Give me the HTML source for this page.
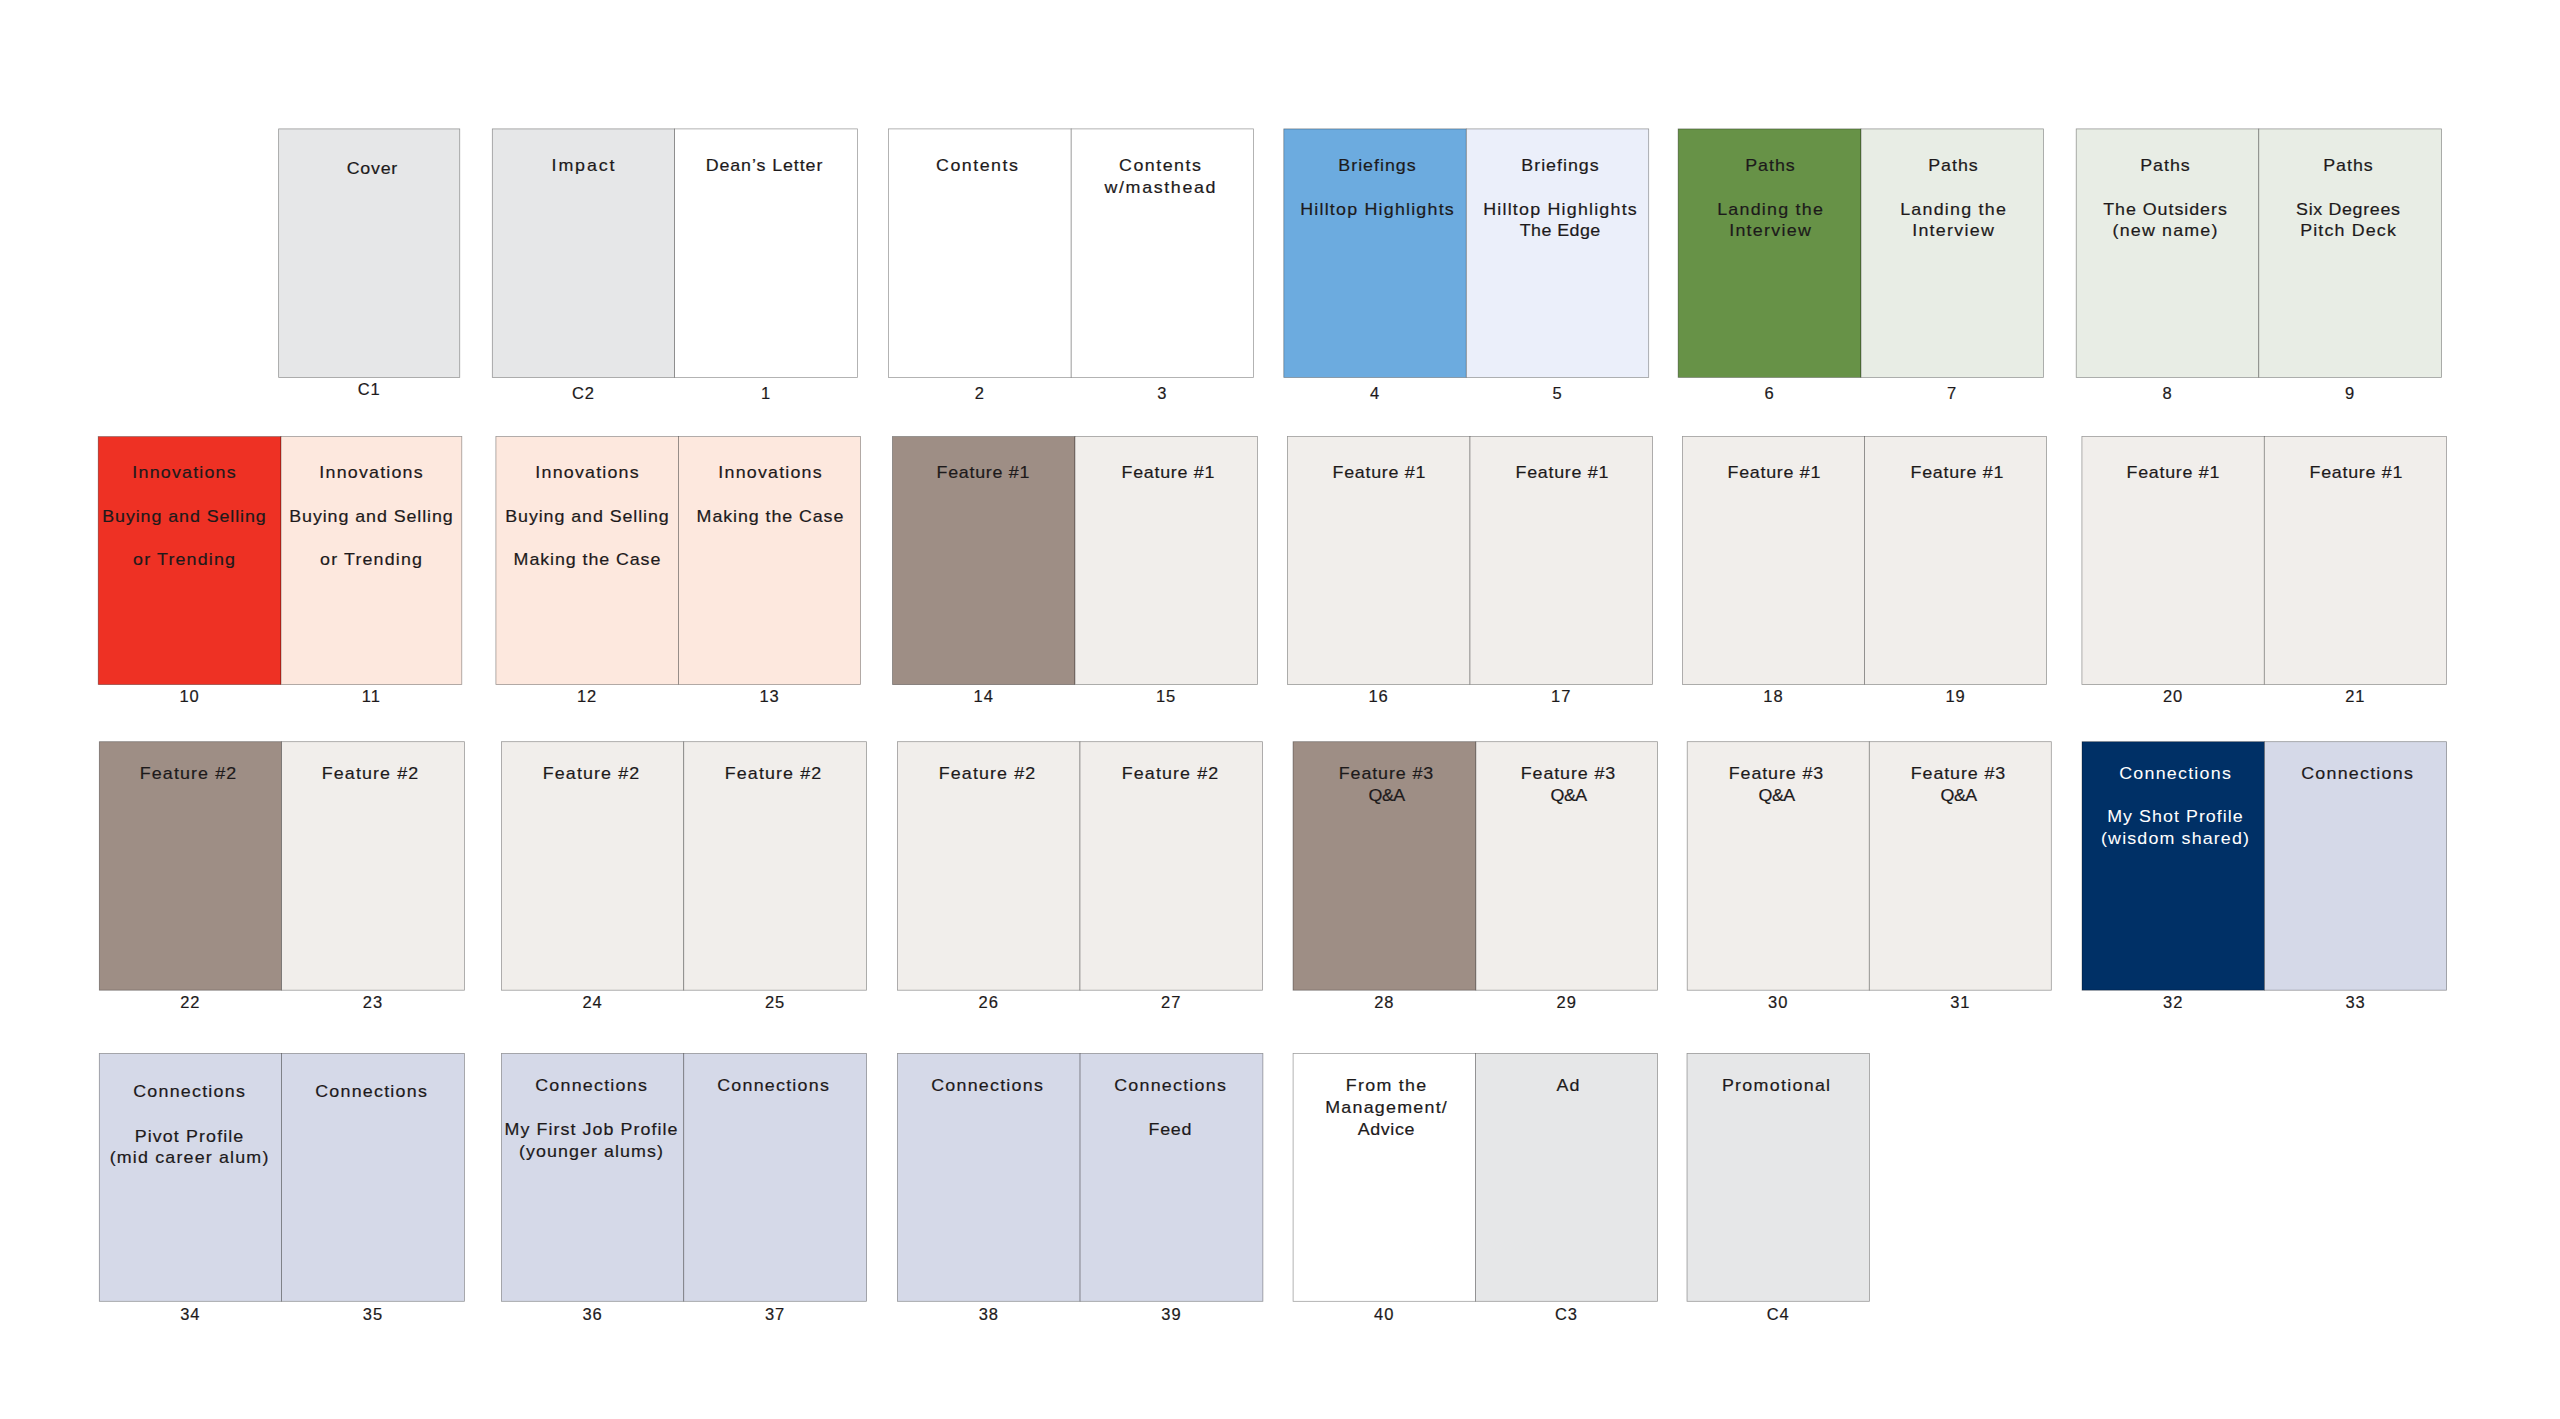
<!DOCTYPE html>
<html lang="en"><head><meta charset="utf-8"><title>Flatplan</title>
<style>
html,body{margin:0;padding:0;background:#fff;}
body{width:2560px;height:1419px;position:relative;overflow:hidden;font-family:"Liberation Sans",sans-serif;color:#1d1a1b;}
.t{position:absolute;white-space:nowrap;text-align:center;font-size:17px;line-height:21.9px;letter-spacing:1.3px;height:21.9px;width:400px;margin-left:-200px;padding-left:1.3px;box-sizing:border-box;-webkit-text-stroke:0.2px currentColor;transform:scaleX(1.05);}
.n{position:absolute;white-space:nowrap;text-align:center;font-size:16.5px;line-height:20px;height:20px;width:100px;margin-left:-50px;letter-spacing:0.9px;padding-left:0.9px;box-sizing:border-box;-webkit-text-stroke:0.2px currentColor;}
</style></head><body>

<svg width="2560" height="1419" viewBox="0 0 2560 1419" style="position:absolute;left:0;top:0"><g stroke="#000" stroke-opacity="0.4" stroke-width="0.75"><rect x="278.65" y="128.90" width="181.10" height="248.50" fill="#e6e7e8"/><rect x="492.30" y="128.90" width="182.30" height="248.50" fill="#e6e7e8"/><rect x="674.60" y="128.90" width="182.80" height="248.50" fill="#ffffff"/><rect x="888.40" y="128.90" width="182.80" height="248.50" fill="#ffffff"/><rect x="1071.20" y="128.90" width="182.20" height="248.50" fill="#ffffff"/><rect x="1283.80" y="128.90" width="182.50" height="248.50" fill="#6cabdf"/><rect x="1466.30" y="128.90" width="182.40" height="248.50" fill="#ebeffa"/><rect x="1678.10" y="128.90" width="182.90" height="248.50" fill="#679247"/><rect x="1861.00" y="128.90" width="182.40" height="248.50" fill="#e8ede5"/><rect x="2076.20" y="128.90" width="182.60" height="248.50" fill="#e8ede5"/><rect x="2258.80" y="128.90" width="182.80" height="248.50" fill="#e8ede5"/><rect x="98.20" y="436.60" width="182.80" height="248.00" fill="#ee3124"/><rect x="281.00" y="436.60" width="180.80" height="248.00" fill="#fde8de"/><rect x="495.90" y="436.60" width="182.60" height="248.00" fill="#fde8de"/><rect x="678.50" y="436.60" width="182.10" height="248.00" fill="#fde8de"/><rect x="892.50" y="436.60" width="182.50" height="248.00" fill="#9e8e85"/><rect x="1075.00" y="436.60" width="182.40" height="248.00" fill="#f1eeeb"/><rect x="1287.40" y="436.60" width="182.60" height="248.00" fill="#f1eeeb"/><rect x="1470.00" y="436.60" width="182.50" height="248.00" fill="#f1eeeb"/><rect x="1682.50" y="436.60" width="182.00" height="248.00" fill="#f1eeeb"/><rect x="1864.50" y="436.60" width="182.10" height="248.00" fill="#f1eeeb"/><rect x="2081.90" y="436.60" width="182.40" height="248.00" fill="#f1eeeb"/><rect x="2264.30" y="436.60" width="182.20" height="248.00" fill="#f1eeeb"/><rect x="99.30" y="741.70" width="182.30" height="248.50" fill="#9e8e85"/><rect x="281.60" y="741.70" width="182.80" height="248.50" fill="#f1eeeb"/><rect x="501.50" y="741.70" width="182.25" height="248.50" fill="#f1eeeb"/><rect x="683.75" y="741.70" width="182.85" height="248.50" fill="#f1eeeb"/><rect x="897.50" y="741.70" width="182.50" height="248.50" fill="#f1eeeb"/><rect x="1080.00" y="741.70" width="182.50" height="248.50" fill="#f1eeeb"/><rect x="1293.00" y="741.70" width="182.90" height="248.50" fill="#9e8e85"/><rect x="1475.90" y="741.70" width="181.70" height="248.50" fill="#f1eeeb"/><rect x="1687.20" y="741.70" width="182.10" height="248.50" fill="#f1eeeb"/><rect x="1869.30" y="741.70" width="182.00" height="248.50" fill="#f1eeeb"/><rect x="2082.00" y="741.70" width="182.50" height="248.50" fill="#003066"/><rect x="2264.50" y="741.70" width="182.10" height="248.50" fill="#d5d9e8"/><rect x="99.30" y="1053.50" width="182.30" height="247.80" fill="#d5d9e8"/><rect x="281.60" y="1053.50" width="182.80" height="247.80" fill="#d5d9e8"/><rect x="501.50" y="1053.50" width="182.25" height="247.80" fill="#d5d9e8"/><rect x="683.75" y="1053.50" width="182.85" height="247.80" fill="#d5d9e8"/><rect x="897.50" y="1053.50" width="182.60" height="247.80" fill="#d5d9e8"/><rect x="1080.10" y="1053.50" width="182.80" height="247.80" fill="#d5d9e8"/><rect x="1293.10" y="1053.50" width="182.30" height="247.80" fill="#ffffff"/><rect x="1475.40" y="1053.50" width="182.10" height="247.80" fill="#e6e7e8"/><rect x="1687.00" y="1053.50" width="182.40" height="247.80" fill="#e6e7e8"/></g></svg>
<div class="t" style="left:372.00px;top:158.06px;letter-spacing:0.72px;padding-left:0.72px;">Cover</div>
<div class="n" style="left:368.70px;top:379.48px">C1</div>
<div class="t" style="left:583.30px;top:154.66px;letter-spacing:1.75px;padding-left:1.75px;">Impact</div>
<div class="n" style="left:582.95px;top:382.88px">C2</div>
<div class="t" style="left:764.30px;top:154.66px;letter-spacing:0.86px;padding-left:0.86px;">Dean’s Letter</div>
<div class="n" style="left:765.50px;top:382.88px">1</div>
<div class="t" style="left:977.30px;top:154.66px;letter-spacing:1.41px;padding-left:1.41px;">Contents</div>
<div class="n" style="left:979.30px;top:382.88px">2</div>
<div class="t" style="left:1160.30px;top:154.66px;letter-spacing:1.41px;padding-left:1.41px;">Contents</div>
<div class="t" style="left:1160.30px;top:176.76px;letter-spacing:1.56px;padding-left:1.56px;">w/masthead</div>
<div class="n" style="left:1161.80px;top:382.88px">3</div>
<div class="t" style="left:1377.30px;top:154.66px;letter-spacing:0.94px;padding-left:0.94px;">Briefings</div>
<div class="t" style="left:1377.30px;top:198.86px;letter-spacing:1.15px;padding-left:1.15px;">Hilltop Highlights</div>
<div class="n" style="left:1374.55px;top:382.88px">4</div>
<div class="t" style="left:1560.30px;top:154.66px;letter-spacing:0.94px;padding-left:0.94px;">Briefings</div>
<div class="t" style="left:1560.30px;top:198.86px;letter-spacing:1.15px;padding-left:1.15px;">Hilltop Highlights</div>
<div class="t" style="left:1560.30px;top:220.26px;letter-spacing:0.43px;padding-left:0.43px;">The Edge</div>
<div class="n" style="left:1557.00px;top:382.88px">5</div>
<div class="t" style="left:1770.30px;top:154.66px;letter-spacing:0.95px;padding-left:0.95px;">Paths</div>
<div class="t" style="left:1770.30px;top:198.86px;letter-spacing:1.18px;padding-left:1.18px;">Landing the</div>
<div class="t" style="left:1770.30px;top:220.26px;letter-spacing:1.22px;padding-left:1.22px;">Interview</div>
<div class="n" style="left:1769.05px;top:382.88px">6</div>
<div class="t" style="left:1953.30px;top:154.66px;letter-spacing:0.95px;padding-left:0.95px;">Paths</div>
<div class="t" style="left:1953.30px;top:198.86px;letter-spacing:1.18px;padding-left:1.18px;">Landing the</div>
<div class="t" style="left:1953.30px;top:220.26px;letter-spacing:1.22px;padding-left:1.22px;">Interview</div>
<div class="n" style="left:1951.70px;top:382.88px">7</div>
<div class="t" style="left:2165.30px;top:154.66px;letter-spacing:0.95px;padding-left:0.95px;">Paths</div>
<div class="t" style="left:2165.30px;top:198.86px;letter-spacing:0.92px;padding-left:0.92px;">The Outsiders</div>
<div class="t" style="left:2165.30px;top:220.26px;letter-spacing:1.12px;padding-left:1.12px;">(new name)</div>
<div class="n" style="left:2167.00px;top:382.88px">8</div>
<div class="t" style="left:2348.00px;top:154.66px;letter-spacing:0.95px;padding-left:0.95px;">Paths</div>
<div class="t" style="left:2348.00px;top:198.86px;letter-spacing:0.63px;padding-left:0.63px;">Six Degrees</div>
<div class="t" style="left:2348.00px;top:220.26px;letter-spacing:1.10px;padding-left:1.10px;">Pitch Deck</div>
<div class="n" style="left:2349.70px;top:382.88px">9</div>
<div class="t" style="left:184.30px;top:462.16px;letter-spacing:1.14px;padding-left:1.14px;">Innovations</div>
<div class="t" style="left:184.30px;top:505.56px;letter-spacing:0.88px;padding-left:0.88px;">Buying and Selling</div>
<div class="t" style="left:184.30px;top:548.96px;letter-spacing:1.10px;padding-left:1.10px;">or Trending</div>
<div class="n" style="left:189.10px;top:685.88px">10</div>
<div class="t" style="left:370.80px;top:462.16px;letter-spacing:1.14px;padding-left:1.14px;">Innovations</div>
<div class="t" style="left:370.80px;top:505.56px;letter-spacing:0.88px;padding-left:0.88px;">Buying and Selling</div>
<div class="t" style="left:370.80px;top:548.96px;letter-spacing:1.10px;padding-left:1.10px;">or Trending</div>
<div class="n" style="left:370.90px;top:685.88px">11</div>
<div class="t" style="left:586.80px;top:462.16px;letter-spacing:1.14px;padding-left:1.14px;">Innovations</div>
<div class="t" style="left:586.80px;top:505.56px;letter-spacing:0.88px;padding-left:0.88px;">Buying and Selling</div>
<div class="t" style="left:586.80px;top:548.96px;letter-spacing:0.87px;padding-left:0.87px;">Making the Case</div>
<div class="n" style="left:586.70px;top:685.88px">12</div>
<div class="t" style="left:769.80px;top:462.16px;letter-spacing:1.14px;padding-left:1.14px;">Innovations</div>
<div class="t" style="left:769.80px;top:505.56px;letter-spacing:0.87px;padding-left:0.87px;">Making the Case</div>
<div class="n" style="left:769.05px;top:685.88px">13</div>
<div class="t" style="left:983.30px;top:462.16px;letter-spacing:0.69px;padding-left:0.69px;">Feature #1</div>
<div class="n" style="left:983.25px;top:685.88px">14</div>
<div class="t" style="left:1168.30px;top:462.16px;letter-spacing:0.69px;padding-left:0.69px;">Feature #1</div>
<div class="n" style="left:1165.70px;top:685.88px">15</div>
<div class="t" style="left:1378.80px;top:462.16px;letter-spacing:0.69px;padding-left:0.69px;">Feature #1</div>
<div class="n" style="left:1378.20px;top:685.88px">16</div>
<div class="t" style="left:1561.80px;top:462.16px;letter-spacing:0.69px;padding-left:0.69px;">Feature #1</div>
<div class="n" style="left:1560.75px;top:685.88px">17</div>
<div class="t" style="left:1773.80px;top:462.16px;letter-spacing:0.69px;padding-left:0.69px;">Feature #1</div>
<div class="n" style="left:1773.00px;top:685.88px">18</div>
<div class="t" style="left:1956.80px;top:462.16px;letter-spacing:0.69px;padding-left:0.69px;">Feature #1</div>
<div class="n" style="left:1955.05px;top:685.88px">19</div>
<div class="t" style="left:2173.30px;top:462.16px;letter-spacing:0.69px;padding-left:0.69px;">Feature #1</div>
<div class="n" style="left:2172.60px;top:685.88px">20</div>
<div class="t" style="left:2355.80px;top:462.16px;letter-spacing:0.69px;padding-left:0.69px;">Feature #1</div>
<div class="n" style="left:2354.90px;top:685.88px">21</div>
<div class="t" style="left:187.80px;top:762.76px;letter-spacing:1.08px;padding-left:1.08px;">Feature #2</div>
<div class="n" style="left:189.95px;top:991.88px">22</div>
<div class="t" style="left:370.30px;top:762.76px;letter-spacing:1.08px;padding-left:1.08px;">Feature #2</div>
<div class="n" style="left:372.50px;top:991.88px">23</div>
<div class="t" style="left:590.80px;top:762.76px;letter-spacing:1.08px;padding-left:1.08px;">Feature #2</div>
<div class="n" style="left:592.12px;top:991.88px">24</div>
<div class="t" style="left:773.30px;top:762.76px;letter-spacing:1.08px;padding-left:1.08px;">Feature #2</div>
<div class="n" style="left:774.67px;top:991.88px">25</div>
<div class="t" style="left:987.30px;top:762.76px;letter-spacing:1.08px;padding-left:1.08px;">Feature #2</div>
<div class="n" style="left:988.25px;top:991.88px">26</div>
<div class="t" style="left:1169.80px;top:762.76px;letter-spacing:1.08px;padding-left:1.08px;">Feature #2</div>
<div class="n" style="left:1170.75px;top:991.88px">27</div>
<div class="t" style="left:1386.20px;top:762.76px;letter-spacing:0.85px;padding-left:0.85px;">Feature #3</div>
<div class="t" style="left:1386.20px;top:784.86px;letter-spacing:-0.50px;padding-left:-0.50px;">Q&amp;A</div>
<div class="n" style="left:1383.95px;top:991.88px">28</div>
<div class="t" style="left:1568.30px;top:762.76px;letter-spacing:0.85px;padding-left:0.85px;">Feature #3</div>
<div class="t" style="left:1568.30px;top:784.86px;letter-spacing:-0.50px;padding-left:-0.50px;">Q&amp;A</div>
<div class="n" style="left:1566.25px;top:991.88px">29</div>
<div class="t" style="left:1776.30px;top:762.76px;letter-spacing:0.85px;padding-left:0.85px;">Feature #3</div>
<div class="t" style="left:1776.30px;top:784.86px;letter-spacing:-0.50px;padding-left:-0.50px;">Q&amp;A</div>
<div class="n" style="left:1777.75px;top:991.88px">30</div>
<div class="t" style="left:1958.30px;top:762.76px;letter-spacing:0.85px;padding-left:0.85px;">Feature #3</div>
<div class="t" style="left:1958.30px;top:784.86px;letter-spacing:-0.50px;padding-left:-0.50px;">Q&amp;A</div>
<div class="n" style="left:1959.80px;top:991.88px">31</div>
<div class="t" style="left:2174.80px;top:762.76px;letter-spacing:1.18px;padding-left:1.18px;color:#ffffff;-webkit-text-stroke-width:0.05px;">Connections</div>
<div class="t" style="left:2174.80px;top:806.16px;letter-spacing:0.99px;padding-left:0.99px;color:#ffffff;-webkit-text-stroke-width:0.05px;">My Shot Profile</div>
<div class="t" style="left:2174.80px;top:827.96px;letter-spacing:1.09px;padding-left:1.09px;color:#ffffff;-webkit-text-stroke-width:0.05px;">(wisdom shared)</div>
<div class="n" style="left:2172.75px;top:991.88px">32</div>
<div class="t" style="left:2357.30px;top:762.76px;letter-spacing:1.18px;padding-left:1.18px;">Connections</div>
<div class="n" style="left:2355.05px;top:991.88px">33</div>
<div class="t" style="left:188.80px;top:1081.46px;letter-spacing:1.18px;padding-left:1.18px;">Connections</div>
<div class="t" style="left:188.80px;top:1125.66px;letter-spacing:1.06px;padding-left:1.06px;">Pivot Profile</div>
<div class="t" style="left:188.80px;top:1147.06px;letter-spacing:1.12px;padding-left:1.12px;">(mid career alum)</div>
<div class="n" style="left:189.95px;top:1303.98px">34</div>
<div class="t" style="left:370.80px;top:1081.46px;letter-spacing:1.18px;padding-left:1.18px;">Connections</div>
<div class="n" style="left:372.50px;top:1303.98px">35</div>
<div class="t" style="left:591.30px;top:1075.06px;letter-spacing:1.18px;padding-left:1.18px;">Connections</div>
<div class="t" style="left:591.30px;top:1119.26px;letter-spacing:1.02px;padding-left:1.02px;">My First Job Profile</div>
<div class="t" style="left:591.30px;top:1140.66px;letter-spacing:1.02px;padding-left:1.02px;">(younger alums)</div>
<div class="n" style="left:592.12px;top:1303.98px">36</div>
<div class="t" style="left:773.30px;top:1075.06px;letter-spacing:1.18px;padding-left:1.18px;">Connections</div>
<div class="n" style="left:774.67px;top:1303.98px">37</div>
<div class="t" style="left:987.30px;top:1075.06px;letter-spacing:1.18px;padding-left:1.18px;">Connections</div>
<div class="n" style="left:988.30px;top:1303.98px">38</div>
<div class="t" style="left:1169.80px;top:1075.06px;letter-spacing:1.18px;padding-left:1.18px;">Connections</div>
<div class="t" style="left:1169.80px;top:1119.26px;letter-spacing:0.72px;padding-left:0.72px;">Feed</div>
<div class="n" style="left:1171.00px;top:1303.98px">39</div>
<div class="t" style="left:1385.80px;top:1075.06px;letter-spacing:1.23px;padding-left:1.23px;">From the</div>
<div class="t" style="left:1385.80px;top:1097.16px;letter-spacing:1.19px;padding-left:1.19px;">Management/</div>
<div class="t" style="left:1385.80px;top:1119.26px;letter-spacing:0.60px;padding-left:0.60px;">Advice</div>
<div class="n" style="left:1383.75px;top:1303.98px">40</div>
<div class="t" style="left:1568.30px;top:1075.06px;letter-spacing:1.20px;padding-left:1.20px;">Ad</div>
<div class="n" style="left:1565.95px;top:1303.98px">C3</div>
<div class="t" style="left:1776.30px;top:1075.06px;letter-spacing:1.23px;padding-left:1.23px;">Promotional</div>
<div class="n" style="left:1777.70px;top:1303.98px">C4</div>
</body></html>
